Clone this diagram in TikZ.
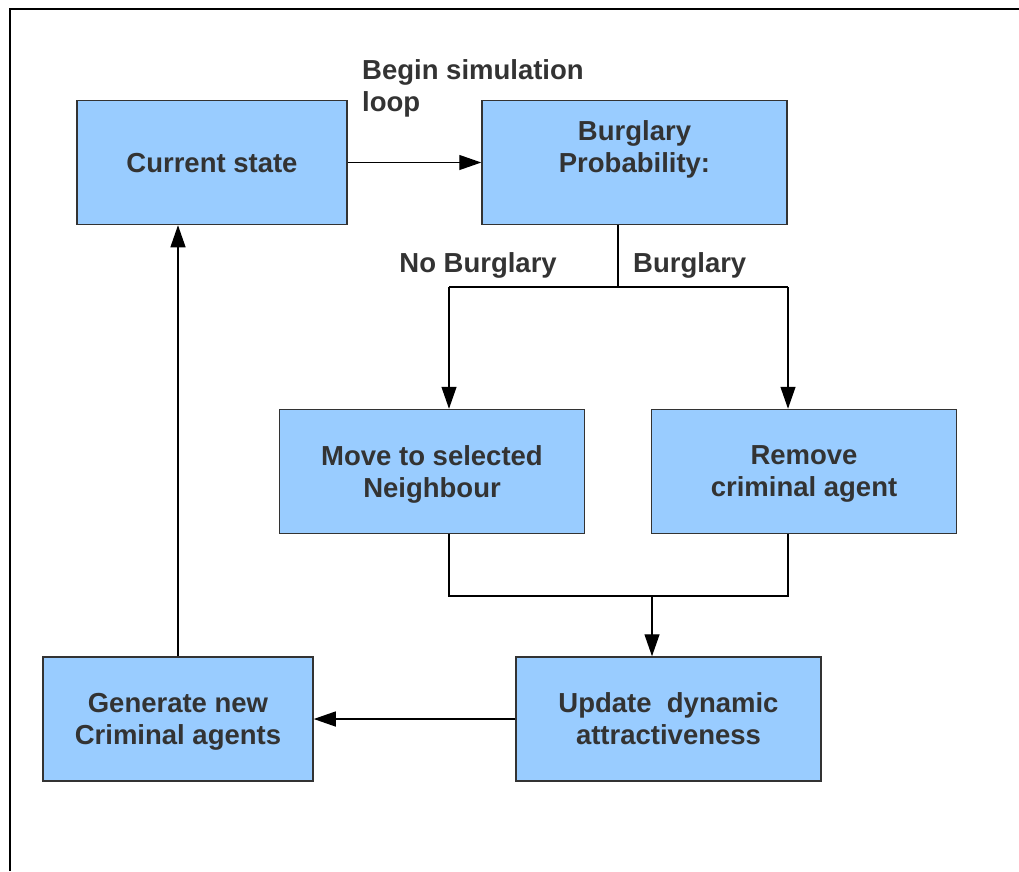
\documentclass[tikz,border=0pt]{standalone}
\usepackage{fontspec}
\setmainfont{Liberation Sans}
\usetikzlibrary{arrows.meta,positioning}
\definecolor{boxblue}{HTML}{99CCFF}
\definecolor{boxline}{HTML}{333333}
\definecolor{txt}{HTML}{333333}
\begin{document}
\begin{tikzpicture}[x=1pt,y=-1pt,
    state/.style={draw=boxline, line width=1.5pt, fill=boxblue, minimum width=305pt, minimum height=124pt,
        align=center, text depth=0pt, text=txt, font=\fontsize{27.5}{32}\selectfont\bfseries},
    narrow/.style={state, minimum width=270pt},
    lbl/.style={text=txt, font=\fontsize{27.5}{32}\selectfont\bfseries, inner sep=0pt},
    arr/.style={line width=1.3pt, -{Triangle[length=22pt,width=15pt]}}]
    \useasboundingbox (0,0) rectangle (1019,871);
    \draw[line width=2pt] (10,871) -- (10,8.5) -- (1019,8.5);

    \node[narrow] (cur) at (212,162.5) {Current state};
    \node[state, right of=cur, node distance=422.5pt] (prob) {Burglary\\Probability:\\\mbox{}};
    \node[state] (move) at (432,471.5) {Move to selected\\Neighbour};
    \node[state, right of=move, node distance=372pt] (rem) {Remove\\criminal agent};
    \node[narrow] (gen) at (178,719) {Generate new\\Criminal agents};
    \node[state, right of=gen, node distance=490.5pt] (upd) {Update\ \ dynamic\\attractiveness};

    \node[lbl, align=left, anchor=north west] (begin) at (362,59) {Begin simulation\\loop};
    \node[lbl, anchor=base east] (nob) at (557,272) {No Burglary};
    \node[lbl, anchor=base west] (bur) at (633,272) {Burglary};

    \coordinate (split) at (618,287);
    \coordinate (left) at (449,287);
    \coordinate (right) at (788,287);
    \coordinate (join) at (652,596);

    \draw[arr] (cur) -- (prob);
    \draw[line width=1.3pt] (prob.south -| split) -- (split);
    \draw[line width=1.3pt] (left) -- (right);
    \draw[arr] (left) -- (move.north -| left);
    \draw[arr] (right) -- (rem.north -| right);
    \draw[line width=1.3pt] (move.south -| left) |- (join);
    \draw[line width=1.3pt] (rem.south -| right) |- (join);
    \draw[arr] (join) -- (upd.north -| join);
    \draw[arr] (upd) -- (gen);
    \draw[arr] (gen.north) -- (cur.south -| gen.north);
\end{tikzpicture}
\end{document}
